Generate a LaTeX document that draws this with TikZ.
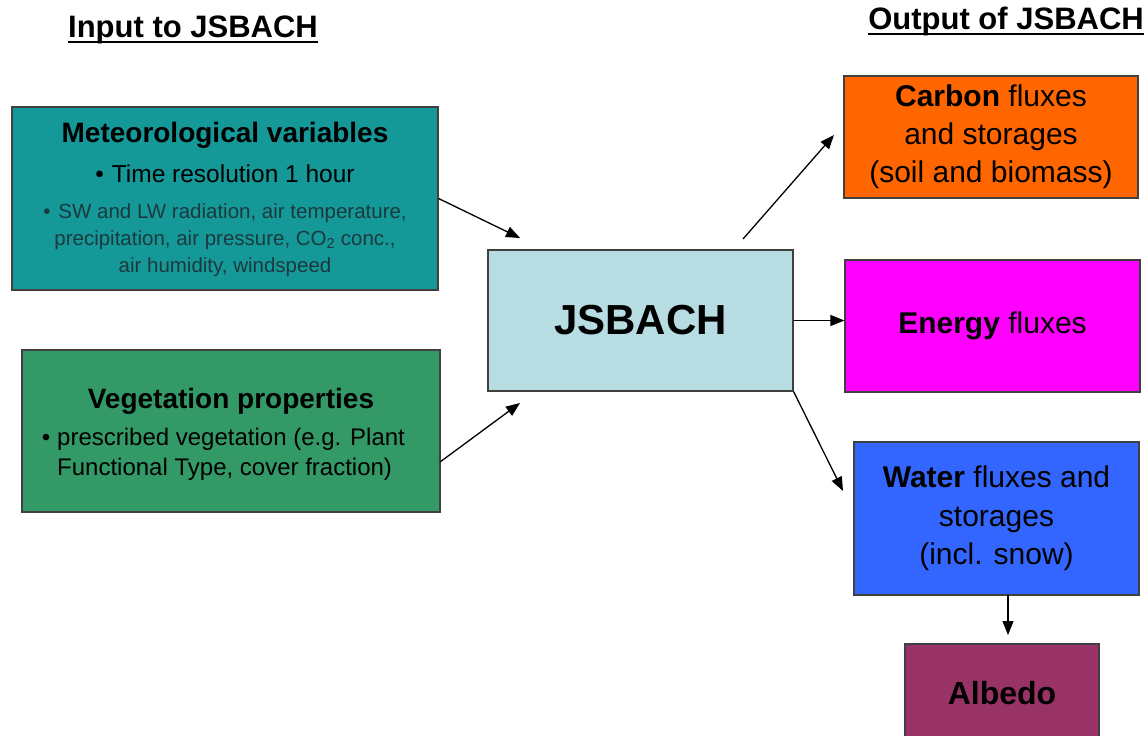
\documentclass[tikz,border=0pt]{standalone}
\usepackage{fontspec}
\setmainfont{Liberation Sans}
\usetikzlibrary{arrows.meta,calc}
\definecolor{metc}{RGB}{20,152,152}
\definecolor{vegc}{RGB}{51,153,102}
\definecolor{jsc}{RGB}{183,221,226}
\definecolor{carbc}{RGB}{255,102,0}
\definecolor{enc}{RGB}{255,0,255}
\definecolor{watc}{RGB}{51,102,255}
\definecolor{albc}{RGB}{153,51,102}
\definecolor{smalltxt}{RGB}{28,58,62}
\tikzset{
  box/.style={draw=black!75, line width=1.2pt, rectangle, inner sep=0pt, align=center},
  arr/.style={line width=1.3pt, -{Triangle[length=14pt,width=11pt]}},
  hdr/.style={inner sep=0pt, font=\fontsize{31}{36}\selectfont\bfseries},
  txt/.style={inner sep=0pt, align=center},
}
\begin{document}
\begin{tikzpicture}[x=1pt,y=-1pt]
\useasboundingbox (0,0) rectangle (1146,736);
\clip (0,0) rectangle (1146,736);
\fill[white] (0,0) rectangle (1146,736);

% headers
\node[hdr, anchor=base] (hin) at (193,37) {Input to JSBACH};
\draw[line width=2.4pt] ([yshift=-5pt]hin.base west) -- ([yshift=-5pt]hin.base east);
\node[hdr, anchor=base east] (hout) at (1144,29) {Output of JSBACH};
\draw[line width=2.4pt] ([yshift=-5pt]hout.base west) -- ([yshift=-5pt]hout.base east);

% input boxes
\node[box, fill=metc, minimum width=426pt, minimum height=183pt] (met) at (225,198.5) {};
\node[txt, font=\fontsize{28}{32}\selectfont\bfseries] (mett) at (225,135) {Meteorological variables};
\node[txt, font=\fontsize{24.5}{30}\selectfont] (metb) at (225,174) {•\hspace{8pt}Time resolution 1 hour};
\node[txt, text=smalltxt, font=\fontsize{20.5}{27}\selectfont] (mets) at (225,240) {•\hspace{8pt}SW and LW radiation, air temperature,\\precipitation, air pressure, CO\textsubscript{2} conc.,\\air humidity, windspeed};

\node[box, fill=vegc, minimum width=418pt, minimum height=162pt] (veg) at (231,431) {};
\node[txt, font=\fontsize{28}{32}\selectfont\bfseries] (vegt) at (231,401) {Vegetation properties};
\node[inner sep=0pt, align=left, anchor=west, font=\fontsize{24}{30}\selectfont] (vegb) at (57,454) {\llap{•\hspace{7pt}}prescribed vegetation (e.g. Plant\\Functional Type, cover fraction)};

% model
\node[box, fill=jsc, minimum width=305pt, minimum height=141pt, font=\fontsize{42}{48}\selectfont\bfseries] (js) at (640.5,320.5) {JSBACH};

% outputs
\node[box, fill=carbc, minimum width=294pt, minimum height=122pt, font=\fontsize{30}{38}\selectfont] (carb) at (991,137) {\textbf{Carbon} fluxes\\and storages\\(soil and biomass)};
\node[box, fill=enc, minimum width=295pt, minimum height=132pt, font=\fontsize{30}{38}\selectfont] (en) at (992.5,326) {\textbf{Energy} fluxes};
\node[box, fill=watc, minimum width=285pt, minimum height=153pt, font=\fontsize{30}{38.5}\selectfont] (wat) at (996.5,518.5) {\textbf{Water} fluxes and\\storages\\(incl. snow)};
\node[box, fill=albc, minimum width=194pt, minimum height=98pt, font=\fontsize{32}{38}\selectfont\bfseries] (alb) at (1002,693) {Albedo};

% free ends
\coordinate (a1) at (520,238);
\coordinate (v0) at (440,462);
\coordinate (v1) at (520,403);
\coordinate (c0) at (743,239);
\coordinate (c1) at (834,135);
\coordinate (w1) at (843,491);
\coordinate (d0) at (1008,595);
\coordinate (d1) at (1008,635);

% connectors
\draw[arr] (met.east) -- (a1);
\draw[arr] (v0) -- (v1);
\draw[arr] (c0) -- (c1);
\draw[arr] (js.east) -- (js.east -| en.west);
\draw[arr] (js.south east) -- (w1);
\draw[arr] (d0) -- (d1);
\end{tikzpicture}
\end{document}
